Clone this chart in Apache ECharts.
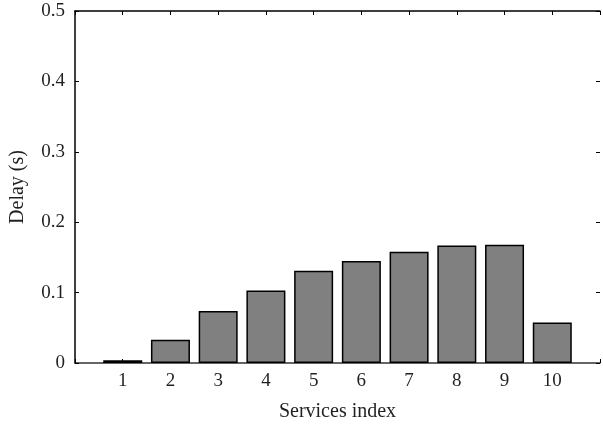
<!DOCTYPE html>
<html><head><meta charset="utf-8">
<script src="https://cdn.jsdelivr.net/npm/echarts@6/dist/echarts.min.js"></script>
<style>html,body{margin:0;padding:0;background:#fff}#c{width:603px;height:427px}</style>
</head><body><div id="c"></div>
<script>
const categories = [1, 2, 3, 4, 5, 6, 7, 8, 9, 10];
const delays = [0.004, 0.033, 0.074, 0.103, 0.131, 0.145, 0.158, 0.167, 0.168, 0.0575];
const yTicks = [0, 0.1, 0.2, 0.3, 0.4, 0.5];
const xName = 'Services index';
const yName = 'Delay (s)';

const font = 'Liberation Serif';
const txt = '#231f20';
const chart = echarts.init(document.getElementById('c'));
chart.setOption({
  animation: false,
  grid: {left: 74, right: 0, top: 11, bottom: 64},
  xAxis: [{
    type: 'value', min: 0, max: 11, interval: 1,
    name: xName, nameLocation: 'middle', nameGap: 39,
    nameTextStyle: {fontFamily: font, fontSize: 20, color: txt},
    axisLine: {lineStyle: {color: '#333', width: 1.5}},
    axisTick: {inside: true, length: 4, lineStyle: {color: '#000'}},
    axisLabel: {fontFamily: font, fontSize: 19, color: txt, margin: 9,
      formatter: v => categories.indexOf(v) >= 0 ? String(v) : ''},
    splitLine: {show: false}
  }, {
    type: 'value', min: 0, max: 11, interval: 1, position: 'top',
    axisLine: {show: true, onZero: false, lineStyle: {color: '#000', width: 1.5}},
    axisTick: {show: true, inside: true, length: 4, lineStyle: {color: '#000'}},
    axisLabel: {show: false}, splitLine: {show: false}
  }],
  yAxis: [{
    type: 'value', min: yTicks[0], max: yTicks[yTicks.length - 1], interval: 0.1,
    name: yName, nameLocation: 'middle', nameGap: 47,
    nameTextStyle: {fontFamily: font, fontSize: 20, color: txt},
    axisLine: {show: true, lineStyle: {color: '#000', width: 1.5}},
    axisTick: {show: true, inside: true, length: 4, lineStyle: {color: '#000'}},
    axisLabel: {fontFamily: font, fontSize: 19, color: txt, margin: 10,
      formatter: v => String(Math.round(v * 10) / 10)},
    splitLine: {show: false}
  }, {
    type: 'value', min: yTicks[0], max: yTicks[yTicks.length - 1], interval: 0.1, position: 'right',
    axisLine: {show: false, onZero: false},
    axisTick: {show: true, inside: true, length: 4, lineStyle: {color: '#000'}},
    axisLabel: {show: false}, splitLine: {show: false}
  }],
  series: [{
    type: 'bar', xAxisIndex: 0, yAxisIndex: 0,
    barWidth: 39,
    data: categories.map((c, i) => [c, delays[i]]),
    itemStyle: {color: '#808080', borderColor: '#000', borderWidth: 1.5}
  }, {
    type: 'line', xAxisIndex: 1, yAxisIndex: 1, data: [], silent: true
  }]
});
</script></body></html>
